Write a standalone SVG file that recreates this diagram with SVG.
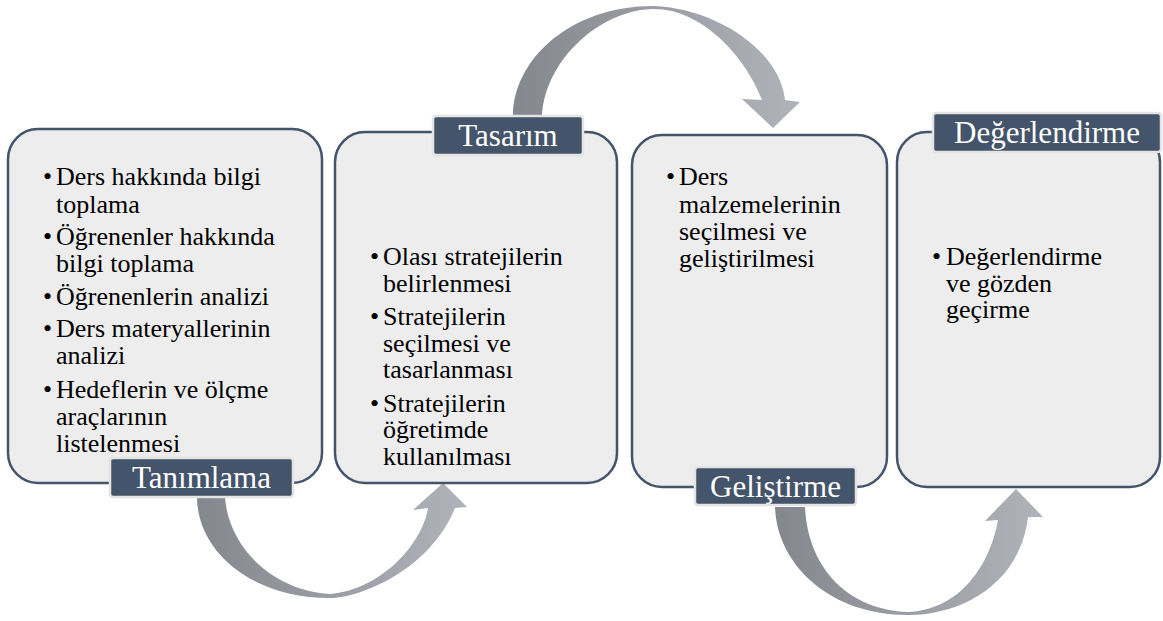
<svg xmlns="http://www.w3.org/2000/svg" width="1163" height="621" viewBox="0 0 1163 621">
<defs>
<linearGradient id="ag" x1="0" y1="0" x2="1" y2="0">
<stop offset="0" stop-color="#84878D"/>
<stop offset="0.5" stop-color="#9A9DA3"/>
<stop offset="1" stop-color="#B0B3BA"/>
</linearGradient>
</defs>
<style>
.box{fill:#EDEDED;stroke:#44546A;stroke-width:2.5}
.lab{fill:#44546A;stroke:#E4E4E4;stroke-width:2.5}
.lt{font-family:"Liberation Serif","Times New Roman",serif;font-size:31px;fill:#FFFFFF;text-anchor:middle}
.t{font-family:"Liberation Serif","Times New Roman",serif;font-size:26px;fill:#000000}
.arrow{fill:url(#ag)}
</style>
<rect width="1163" height="621" fill="#FFFFFF"/>
<g id="connectors">
<path class="arrow" d="M197,497 C197,550 250,598 330,598 C360,598 430,570 455,508 L467,507 L443,483 L413,510 L428,508 C422,545 380,590 330,594 C270,590 228,545 225,497 Z"/>
<path class="arrow" d="M513,116 C513,60 570,6 653,6 C715,8 780,50 785,100 L800,102 L773,128 L742,99 L762,100 C745,55 700,8 653,9 C600,10 545,60 542,116 Z"/>
<path class="arrow" d="M775,507 C777,565 830,615 908,615 C960,615 1020,585 1028,517 L1043,517 L1016,489 L985,521 L998,520 C990,565 960,610 908,612 C850,610 808,570 805,507 Z"/>
</g>
<g id="node-tanimlama">
<rect class="box" x="8" y="129" width="314" height="354" rx="30"/>
<text class="t" x="43" y="185">•</text>
<text class="t" x="56" y="185">Ders hakkında bilgi</text>
<text class="t" x="56" y="212.5">toplama</text>
<text class="t" x="43" y="245">•</text>
<text class="t" x="56" y="245">Öğrenenler hakkında</text>
<text class="t" x="56" y="272">bilgi toplama</text>
<text class="t" x="43" y="305">•</text>
<text class="t" x="56" y="305">Öğrenenlerin analizi</text>
<text class="t" x="43" y="337">•</text>
<text class="t" x="56" y="337">Ders materyallerinin</text>
<text class="t" x="56" y="364">analizi</text>
<text class="t" x="43" y="398">•</text>
<text class="t" x="56" y="398">Hedeflerin ve ölçme</text>
<text class="t" x="56" y="425">araçlarının</text>
<text class="t" x="56" y="452">listelenmesi</text>
<rect class="lab" x="110" y="458" width="183" height="39" rx="3"/>
<text class="lt" x="201.5" y="488">Tanımlama</text>
</g>
<g id="node-tasarim">
<rect class="box" x="335" y="132" width="282" height="351" rx="30"/>
<text class="t" x="370" y="265">•</text>
<text class="t" x="383" y="265">Olası stratejilerin</text>
<text class="t" x="383" y="292">belirlenmesi</text>
<text class="t" x="370" y="325">•</text>
<text class="t" x="383" y="325">Stratejilerin</text>
<text class="t" x="383" y="352">seçilmesi ve</text>
<text class="t" x="383" y="378">tasarlanması</text>
<text class="t" x="370" y="412">•</text>
<text class="t" x="383" y="412">Stratejilerin</text>
<text class="t" x="383" y="438">öğretimde</text>
<text class="t" x="383" y="465">kullanılması</text>
<rect class="lab" x="433" y="116" width="150" height="39" rx="3"/>
<text class="lt" x="508" y="146">Tasarım</text>
</g>
<g id="node-gelistirme">
<rect class="box" x="632" y="135" width="255" height="352" rx="30"/>
<text class="t" x="666" y="185">•</text>
<text class="t" x="679" y="185">Ders</text>
<text class="t" x="679" y="212.5">malzemelerinin</text>
<text class="t" x="679" y="240">seçilmesi ve</text>
<text class="t" x="679" y="267">geliştirilmesi</text>
<rect class="lab" x="695" y="467" width="161" height="38" rx="3"/>
<text class="lt" x="775.5" y="496.5">Geliştirme</text>
</g>
<g id="node-degerlendirme">
<rect class="box" x="897" y="132" width="263" height="355" rx="30"/>
<text class="t" x="932" y="265">•</text>
<text class="t" x="946" y="265">Değerlendirme</text>
<text class="t" x="946" y="292">ve gözden</text>
<text class="t" x="946" y="318">geçirme</text>
<rect class="lab" x="933" y="113" width="228" height="39" rx="3"/>
<text class="lt" x="1047" y="143">Değerlendirme</text>
</g>
</svg>
